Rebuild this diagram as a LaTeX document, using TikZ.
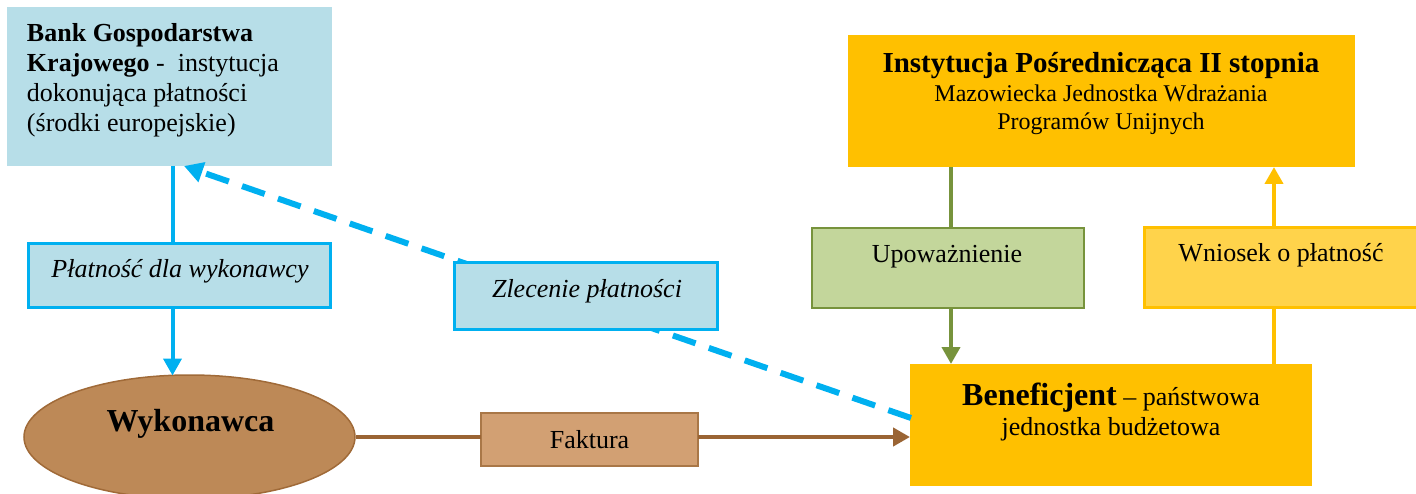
\documentclass[tikz,border=0pt]{standalone}
\usepackage{fontspec}
\setmainfont{Liberation Serif}
\usetikzlibrary{arrows.meta,shapes.geometric}
\definecolor{lblue}{HTML}{B7DEE8}
\definecolor{cyanline}{HTML}{00B0F0}
\definecolor{ellfill}{HTML}{BD8957}
\definecolor{ellborder}{HTML}{A06A38}
\definecolor{brownline}{HTML}{9A6434}
\definecolor{faktfill}{HTML}{D2A073}
\definecolor{faktborder}{HTML}{A97747}
\definecolor{orangefill}{HTML}{FFC000}
\definecolor{greenline}{HTML}{77933C}
\definecolor{greenfill}{HTML}{C3D69B}
\definecolor{yellowfill}{HTML}{FFD34B}
\tikzset{
  box/.style={rectangle, inner sep=0pt, outer sep=0pt},
  txt/.style={inner sep=0pt, outer sep=0pt, font=\fontsize{26}{31}\selectfont},
  txtsmall/.style={inner sep=0pt, outer sep=0pt, font=\fontsize{24}{28}\selectfont},
  txtbig/.style={inner sep=0pt, outer sep=0pt, font=\fontsize{32}{36}\selectfont\bfseries},
  txtinst/.style={inner sep=0pt, outer sep=0pt, font=\fontsize{29}{33}\selectfont\bfseries},
  tip/.style={-{Triangle[length=17pt,width=18pt]}},
  bigtip/.style={-{Triangle[length=19pt,width=20pt]}},
  cyanconn/.style={draw=cyanline, line width=4pt},
  dashconn/.style={draw=cyanline, line width=6pt, dash pattern=on 24pt off 14pt},
  brownconn/.style={draw=brownline, line width=4.5pt},
  greenconn/.style={draw=greenline, line width=4pt},
  yellowconn/.style={draw=orangefill, line width=4pt},
}
\begin{document}
\begin{tikzpicture}[x=1pt,y=-1pt]
\useasboundingbox (0,0) rectangle (1416,494);

% ---------- boxes ----------
\node[box, fill=lblue, minimum width=325pt, minimum height=159pt] (bank) at (169.5,86.5) {};
\node[box, fill=orangefill, minimum width=507pt, minimum height=132pt] (inst) at (1101.5,101) {};
\node[box, fill=orangefill, minimum width=402pt, minimum height=122pt] (ben) at (1111,425) {};
\node[ellipse, draw=ellborder, line width=1.5pt, fill=ellfill, inner sep=0pt,
      minimum width=331pt, minimum height=124pt] (wyk) at (189.5,437) {};

% ---------- connector anchors ----------
\coordinate (cx) at (172.5,0);
\coordinate (wyktop) at (172.5,375.5);
\coordinate (gx) at (951,0);
\coordinate (yx) at (1274,0);
\coordinate (dashstart) at (911,418);
\coordinate (dashend) at (184,166);

% dashed connector (behind the label box)
\draw[dashconn, bigtip] (dashstart) -- (dashend);

% label boxes
\node[box, draw=cyanline, line width=3pt, fill=lblue, minimum width=302pt, minimum height=64pt] (plat) at (179.5,275.5) {};
\node[box, draw=cyanline, line width=3pt, fill=lblue, minimum width=263pt, minimum height=66pt] (zlec) at (586,296) {};
\node[box, draw=faktborder, line width=1.5pt, fill=faktfill, minimum width=217pt, minimum height=53pt] (fakt) at (589.5,439.5) {};
\node[box, draw=greenline, line width=2pt, fill=greenfill, minimum width=272pt, minimum height=80pt] (upo) at (947.5,268) {};
\node[box, draw=orangefill, line width=3pt, fill=yellowfill, minimum width=276pt, minimum height=80pt] (wn) at (1282,268) {};

% ---------- connectors ----------
\draw[cyanconn] (bank.south -| cx) -- (plat.north -| cx);
\draw[cyanconn, tip] (plat.south -| cx) -- (wyktop);

\draw[brownconn] (wyk.east) -- (wyk.east -| fakt.west);
\draw[brownconn, tip] (wyk.east -| fakt.east) -- (wyk.east -| ben.west);

\draw[greenconn] (inst.south -| gx) -- (upo.north -| gx);
\draw[greenconn, tip] (upo.south -| gx) -- (ben.north -| gx);

\draw[yellowconn] (ben.north -| yx) -- (wn.south -| yx);
\draw[yellowconn, tip] (wn.north -| yx) -- (inst.south -| yx);

% ---------- texts ----------
\node[txt, anchor=base west] (bank1) at (27,42) {\textbf{Bank Gospodarstwa}};
\node[txt, anchor=base west] (bank2) at (27,72) {\textbf{Krajowego} -\ \ instytucja};
\node[txt, anchor=base west] (bank3) at (27,102) {dokonująca płatności};
\node[txt, anchor=base west] (bank4) at (27,132) {(środki europejskie)};

\node[txt, anchor=base] (platt) at (180,278) {\itshape Płatność dla wykonawcy};
\node[txt, anchor=base] (zlect) at (587,298) {\itshape Zlecenie płatności};
\node[txtbig, anchor=base] (wykt) at (190.5,431) {Wykonawca};
\node[txt, anchor=base] (faktt) at (589.5,448) {Faktura};

\node[txtinst, anchor=base] (inst1) at (1101,73) {Instytucja Pośrednicząca II stopnia};
\node[txtsmall, anchor=base] (inst2) at (1101,102) {Mazowiecka Jednostka Wdrażania};
\node[txtsmall, anchor=base] (inst3) at (1101,130) {Programów Unijnych};

\node[txt, anchor=base] (upot) at (947,263) {Upoważnienie};
\node[txt, anchor=base] (wnt) at (1281,262) {Wniosek o płatność};

\node[txt, anchor=base] (ben1) at (1111,405) {{\fontsize{32}{36}\selectfont\bfseries Beneficjent} – państwowa};
\node[txt, anchor=base] (ben2) at (1111,435) {jednostka budżetowa};
\end{tikzpicture}
\end{document}
